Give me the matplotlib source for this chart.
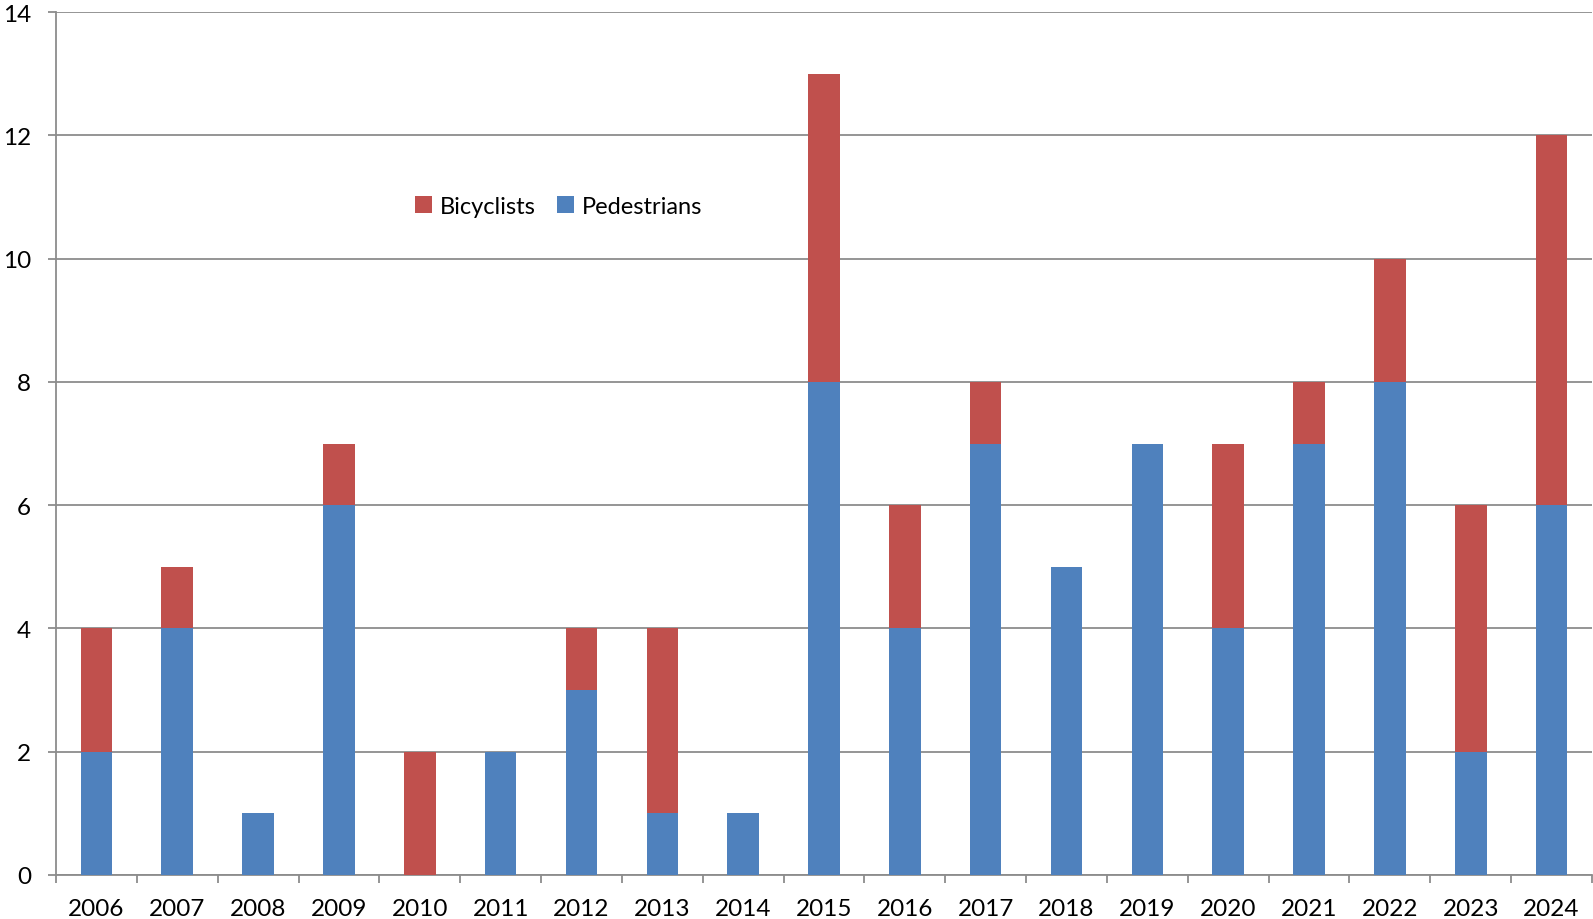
import matplotlib.pyplot as plt
import numpy as np

years = [str(y) for y in range(2006, 2025)]
pedestrians = [2, 4, 1, 6, 0, 2, 3, 1, 1, 8, 4, 7, 5, 7, 4, 7, 8, 2, 6]
bicyclists = [2, 1, 0, 1, 2, 0, 1, 3, 0, 5, 2, 1, 0, 0, 3, 1, 2, 4, 6]

plt.rcParams['font.family'] = ['Lato', 'DejaVu Sans']

fig = plt.figure(figsize=(15.93, 9.20), dpi=100)
ax = fig.add_axes([56 / 1593, 1 - 876 / 920, (1592 - 56) / 1593, (876 - 13) / 920])

x = np.arange(len(years))
w = 0.39
ax.bar(x, pedestrians, w, color='#4F81BD', label='Pedestrians', zorder=3)
ax.bar(x, bicyclists, w, bottom=pedestrians, color='#C0504D', label='Bicyclists', zorder=3)

ax.set_xlim(-0.5, len(years) - 0.5)
ax.set_ylim(0, 14)
ax.set_yticks(range(0, 15, 2))
ax.yaxis.grid(True, color='#8c8c8c', linewidth=1.3, zorder=0)
ax.tick_params(axis='y', length=6, width=1.3, color='#8c8c8c', labelsize=17.5, pad=12)

ax.set_xticks(np.arange(-0.5, len(years), 1))
ax.set_xticklabels([])
ax.set_xticks(x, minor=True)
ax.set_xticklabels(years, minor=True, fontsize=17.5)
ax.tick_params(axis='x', which='major', length=6, width=1.3, color='#8c8c8c', direction='out')
ax.tick_params(axis='x', which='minor', length=0, pad=16.5)

for s in ['top', 'right']:
    ax.spines[s].set_visible(False)
for s in ['left', 'bottom']:
    ax.spines[s].set_color('#8c8c8c')
    ax.spines[s].set_linewidth(1.3)

handles, labels = ax.get_legend_handles_labels()
ax.legend(handles[::-1], labels[::-1], ncol=2, frameon=False, fontsize=17,
          loc='center left', bbox_to_anchor=(0.22, 0.775),
          handlelength=0.7, handleheight=0.7, handletextpad=0.35, columnspacing=0.9)

fig.savefig('out.png', dpi=100)
